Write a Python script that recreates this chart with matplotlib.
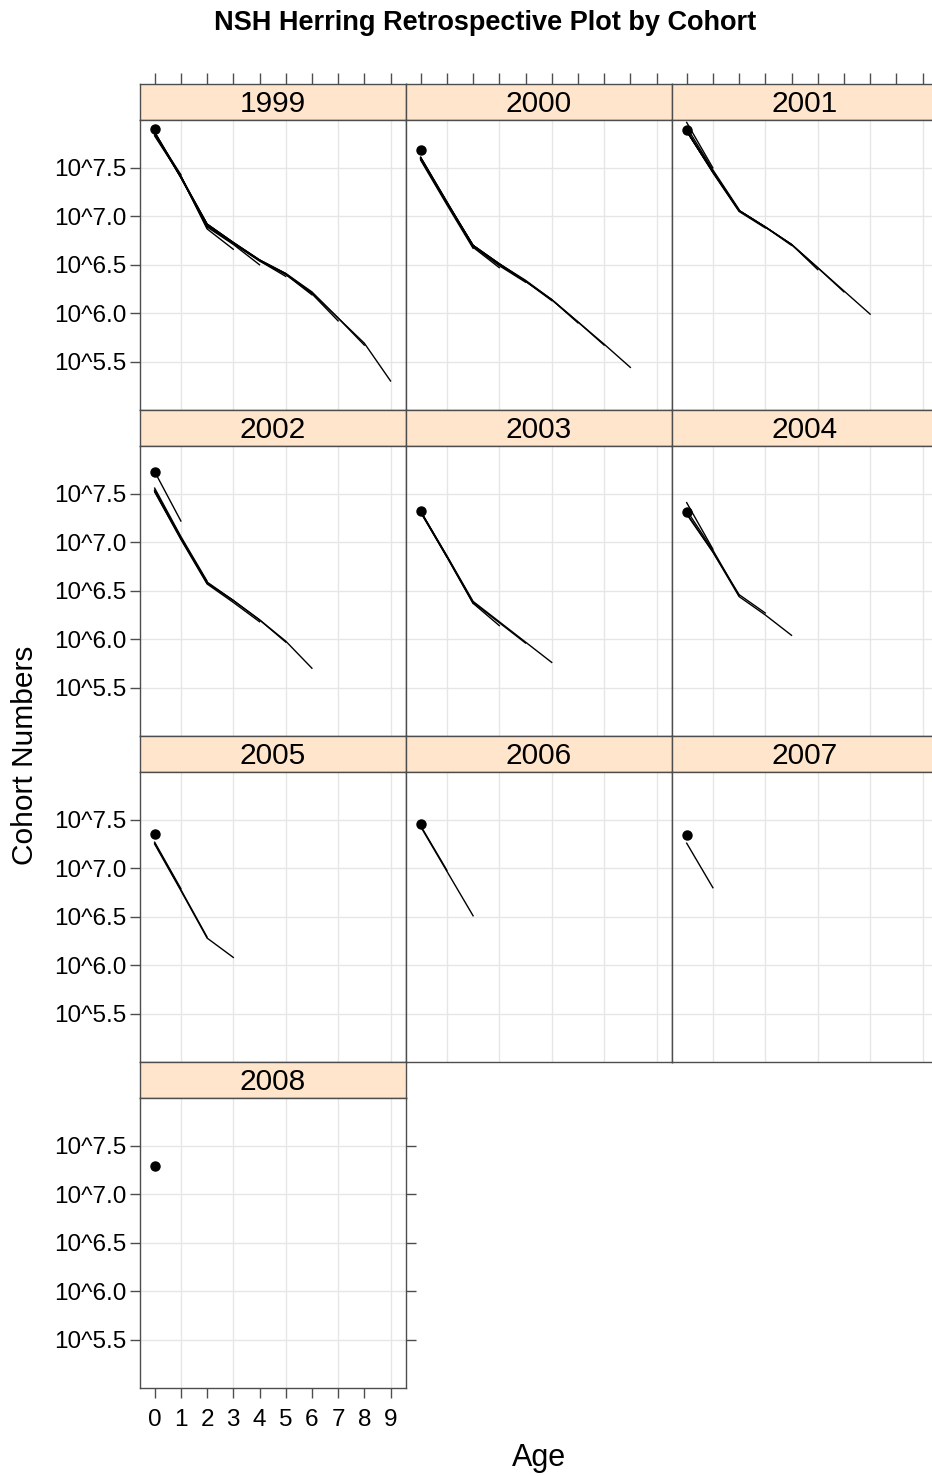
import matplotlib
matplotlib.use("Agg")
import matplotlib.pyplot as plt

plt.rcParams['font.family'] = ['Liberation Sans', 'DejaVu Sans']

# ---------------- data (log10 cohort numbers) ----------------
cohorts = ["1999", "2000", "2001", "2002", "2003", "2004", "2005", "2006", "2007", "2008"]
ages = [0, 1, 2, 3, 4, 5, 6, 7, 8, 9]

# value from the retrospective run whose terminal year equals the cohort year
first_run_point = [7.90, 7.69, 7.89, 7.73, 7.32, 7.31, 7.35, 7.46, 7.34, 7.29]

# later retrospective runs (each list = ages 0..n)
runs_1999 = [
    [7.85, 7.43],
    [7.84, 7.42, 6.88],
    [7.83, 7.41, 6.87, 6.66],
    [7.85, 7.41, 6.89, 6.71, 6.50],
    [7.86, 7.40, 6.90, 6.72, 6.54, 6.38],
    [7.87, 7.41, 6.92, 6.73, 6.55, 6.40, 6.19],
    [7.86, 7.40, 6.91, 6.72, 6.54, 6.40, 6.20, 5.92],
    [7.87, 7.41, 6.92, 6.73, 6.55, 6.41, 6.22, 5.95, 5.67],
    [7.86, 7.40, 6.92, 6.73, 6.55, 6.41, 6.21, 5.95, 5.69, 5.30],
]
runs_2000 = [
    [7.59, 7.13],
    [7.58, 7.12, 6.67],
    [7.60, 7.14, 6.68, 6.47],
    [7.61, 7.15, 6.69, 6.49, 6.32],
    [7.60, 7.14, 6.70, 6.50, 6.33, 6.13],
    [7.61, 7.15, 6.70, 6.51, 6.34, 6.14, 5.90],
    [7.60, 7.14, 6.70, 6.51, 6.33, 6.14, 5.91, 5.67],
    [7.60, 7.14, 6.70, 6.51, 6.33, 6.14, 5.91, 5.68, 5.44],
]
runs_2001 = [
    [7.97, 7.50],
    [7.92, 7.48, 7.07],
    [7.88, 7.45, 7.05, 6.88],
    [7.89, 7.46, 7.06, 6.89, 6.70],
    [7.88, 7.46, 7.06, 6.89, 6.71, 6.45],
    [7.88, 7.46, 7.06, 6.89, 6.71, 6.47, 6.22],
    [7.88, 7.46, 7.06, 6.89, 6.71, 6.47, 6.23, 5.99],
]
runs_2002 = [
    [7.73, 7.22],
    [7.56, 7.06, 6.60],
    [7.54, 7.05, 6.58, 6.40],
    [7.52, 7.03, 6.57, 6.38, 6.18],
    [7.53, 7.04, 6.58, 6.40, 6.20, 5.97],
    [7.53, 7.04, 6.59, 6.40, 6.20, 5.98, 5.70],
]
runs_2003 = [
    [7.31, 6.85],
    [7.31, 6.85, 6.37],
    [7.32, 6.85, 6.37, 6.14],
    [7.32, 6.86, 6.38, 6.17, 5.96],
    [7.32, 6.86, 6.39, 6.18, 5.97, 5.76],
]
runs_2004 = [
    [7.41, 6.93],
    [7.33, 6.92, 6.45],
    [7.30, 6.90, 6.46, 6.27],
    [7.29, 6.90, 6.44, 6.25, 6.04],
]
runs_2005 = [
    [7.27, 6.79],
    [7.26, 6.78, 6.29],
    [7.25, 6.77, 6.28, 6.08],
]
runs_2006 = [
    [7.44, 6.98],
    [7.43, 6.97, 6.51],
]
runs_2007 = [
    [7.26, 6.80],
]
runs_2008 = []

all_runs = [runs_1999, runs_2000, runs_2001, runs_2002, runs_2003,
            runs_2004, runs_2005, runs_2006, runs_2007, runs_2008]

ytick_vals = [5.5, 6.0, 6.5, 7.0, 7.5]
ytick_labels = ["10^5.5", "10^6.0", "10^6.5", "10^7.0", "10^7.5"]

# ---------------- layout ----------------
W, H = 932, 1476
fig = plt.figure(figsize=(W / 100, H / 100), dpi=100)

def rect(x0, y0, x1, y1):
    return [x0 / W, 1 - y1 / H, (x1 - x0) / W, (y1 - y0) / H]

col_x = [140, 406, 672]
pw = 266
row_top = [84, 410, 736, 1062]
sh = 35.5
ph = 290.5
border = "#4d4d4d"
grid_c = "#e6e6e6"
strip_c = "#ffe5cc"

for i, coh in enumerate(cohorts):
    r, c = divmod(i, 3)
    x0 = col_x[c]
    yt = row_top[r]
    # strip
    sax = fig.add_axes(rect(x0, yt, x0 + pw, yt + sh))
    sax.set_facecolor(strip_c)
    sax.set_xticks([]); sax.set_yticks([])
    for s in sax.spines.values():
        s.set_color(border); s.set_linewidth(1.0)
    sax.text(0.5, 0.43, coh, ha="center", va="center", fontsize=21.5,
             transform=sax.transAxes)
    # panel
    ax = fig.add_axes(rect(x0, yt + sh, x0 + pw, yt + sh + ph))
    ax.set_xlim(-0.56, 9.59)
    ax.set_ylim(5.0, 8.0)
    for g in [1, 3, 5, 7, 9]:
        ax.axvline(g, color=grid_c, lw=1.0, zorder=0)
    for g in ytick_vals:
        ax.axhline(g, color=grid_c, lw=1.0, zorder=0)
    for s in ax.spines.values():
        s.set_color(border); s.set_linewidth(1.0)
    for run in all_runs[i]:
        ax.plot(ages[:len(run)], run, color="black", lw=1.0, zorder=3)
    ax.plot([ages[0]], [first_run_point[i]], "o", color="black", ms=6.5, zorder=4)

    ax.set_xticks(ages)
    ax.set_yticks(ytick_vals)
    ax.tick_params(direction="out", length=7, width=1.0, color=border,
                   labelsize=17.5, pad=3)
    show_left = (c == 0)
    show_top = (r == 0)
    show_bottom = (i == 9)
    show_right = (i == 9)
    ax.tick_params(axis="y", left=show_left, labelleft=show_left, right=show_right,
                   labelright=False)
    ax.tick_params(axis="x", top=show_top, labeltop=False, bottom=show_bottom,
                   labelbottom=show_bottom, pad=8)
    if show_left:
        ax.set_yticklabels(ytick_labels)
    if show_top:
        # top ticks must sit above the strip
        ax.tick_params(axis="x", top=False)
        tax = fig.add_axes(rect(x0, yt, x0 + pw, yt + sh))
        tax.patch.set_visible(False)
        for s in tax.spines.values():
            s.set_visible(False)
        tax.set_xlim(-0.56, 9.59)
        tax.set_xticks(ages)
        tax.set_yticks([])
        tax.tick_params(axis="x", top=True, bottom=False, labeltop=False,
                        labelbottom=False, direction="out", length=8,
                        width=1.0, color=border)

fig.text(485 / W, 1 - 23 / H, "NSH Herring Retrospective Plot by Cohort",
         ha="center", va="center", fontsize=19.5, fontweight="bold")
fig.text(539 / W, 1 - 1458 / H, "Age", ha="center", va="center", fontsize=22)
fig.text(25 / W, 1 - 755 / H, "Cohort Numbers", ha="center", va="center",
         fontsize=21.5, rotation=90)

fig.savefig("out.png", dpi=100)
